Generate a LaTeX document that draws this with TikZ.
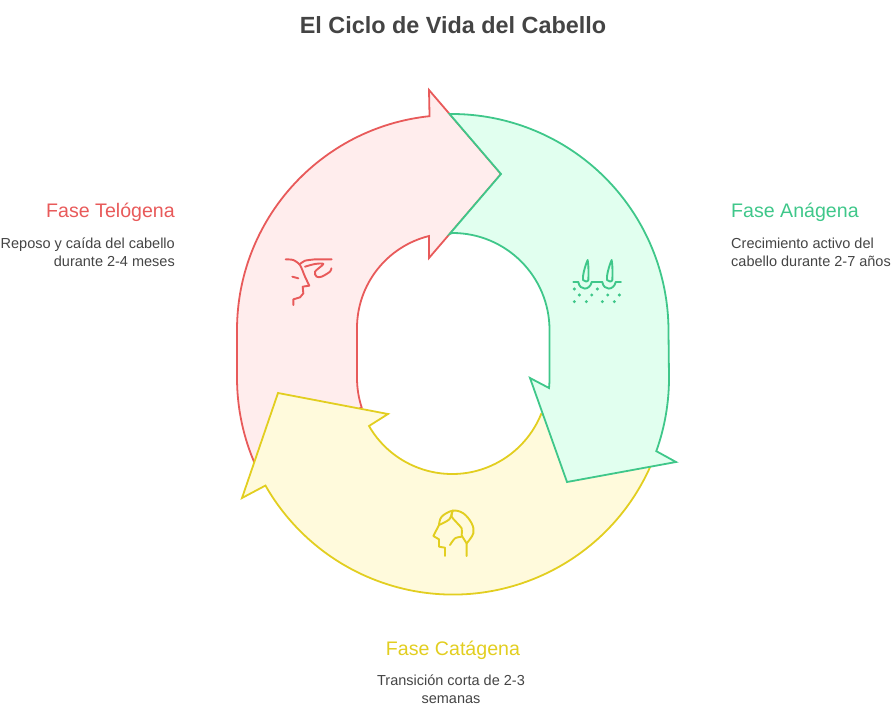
\documentclass[tikz,border=0pt]{standalone}
\usepackage{fontspec}
\setmainfont{Liberation Sans}
\definecolor{redline}{HTML}{E85A5A}
\definecolor{redfill}{HTML}{FFEDED}
\definecolor{greenline}{HTML}{3FC78A}
\definecolor{greenfill}{HTML}{E1FFEF}
\definecolor{yellowline}{HTML}{E2CE20}
\definecolor{yellowfill}{HTML}{FFFADC}
\definecolor{textgray}{HTML}{444444}
\tikzset{
    phase/.style={line width=1.8pt, line join=miter},
    icon/.style={line width=1.9pt, line join=round, line cap=round},
    heading/.style={font=\fontsize{19.6}{22}\selectfont, inner sep=0pt},
    caption/.style={font=\fontsize{14.5}{18}\selectfont, text=textgray, inner sep=0pt}
}
\begin{document}
\begin{tikzpicture}[x=1pt,y=-1pt]
    \useasboundingbox (0,0) rectangle (896,709);
    % title
    \node[font=\bfseries\fontsize{23.4}{28}\selectfont, text=textgray, inner sep=0pt] (title) at (453,25.5) {El Ciclo de Vida del Cabello};
    % arrows
    \filldraw[phase, draw=redline, fill=redfill] (429,90) -- (501,174) -- (429,258) -- (429,236)
        arc[start angle=256, end angle=180, radius=95] -- (357,378)
        arc[start angle=180, end angle=162, radius=95] -- (255.6,465.4)
        arc[start angle=156, end angle=180, radius=215] -- (237,330)
        arc[start angle=180, end angle=264, radius=215] -- cycle;
    \filldraw[phase, draw=yellowline, fill=yellowfill] (388,414) -- (369,426)
        arc[start angle=150, end angle=22, radius=96] -- (651,465)
        arc[start angle=23.6, end angle=150.3, radius=216] -- (242,498) -- (278,393) -- cycle;
    \filldraw[phase, draw=greenline, fill=greenfill] (449.6,114)
        arc[start angle=269.5, end angle=360, radius=217] -- (669,378)
        arc[start angle=0, end angle=19.7, radius=217] -- (676,462) -- (567,482) -- (530,378) -- (549,388)
        arc[start angle=5.9, end angle=0, radius=97] -- (549.5,330)
        arc[start angle=0, end angle=-90, radius=97] -- (449.6,234) -- (501,174) -- cycle;
    % icon telogena
    \begin{scope}[shift={(260,240)}, scale=1/3, icon, redline]
        \draw plot[smooth, tension=0.4] coordinates {(77,58) (100,60) (120,75) (135,110) (148,137)} -- (128,140) -- (130,160) -- (120,172) -- (100,178) -- (100,195);
        \draw plot[smooth, tension=0.4] coordinates {(120,72) (135,62) (165,58)} -- (215,58);
        \draw plot[smooth, tension=0.5] coordinates {(135,80) (165,72) (190,72) (165,95) (170,110) (185,110) (210,95) (214,85)};
        \draw (97,110) -- (115,115);
    \end{scope}
    % icon anagena
    \begin{scope}[shift={(560,250)}, scale=1/3, icon, greenline]
        \foreach \px in {0,72} {
            \draw[xshift=\px] (83,30) .. controls (74,50) and (67,80) .. (69,90) .. controls (72,96) and (84,96) .. (85,90) .. controls (86,70) and (86,50) .. (83,30);
            \draw[xshift=\px] (55,97) .. controls (60,122) and (88,122) .. (95,97);
        }
        \draw (40,97) -- (55,97);
        \draw (95,97) -- (127,97);
        \draw (167,97) -- (183,97);
        \foreach \px/\py in {43/117,112/117,58/135,95/135,143/135,178/135,43/155,79/155,127/155,163/155}
            \fill (\px,\py) circle[radius=5];
    \end{scope}
    % icon catagena
    \begin{scope}[shift={(420,500)}, scale=1/3, icon, yellowline]
        \draw (75,168) -- (75,143) -- (57,140) -- (57,118) -- (40,108) -- (57,75)
            plot[smooth, tension=0.6] coordinates {(57,75) (65,50) (98,32) (130,40) (155,70) (160,100) (140,130)} -- (140,168);
        \draw plot[smooth, tension=0.5] coordinates {(98,32) (95,50) (125,85) (125,105) (140,130)};
        \draw plot[smooth, tension=0.5] coordinates {(125,110) (105,115) (90,135)};
        \draw plot[smooth, tension=0.5] coordinates {(98,32) (88,58) (57,75)};
    \end{scope}
    % labels
    \node[heading, text=redline, anchor=east] (telogena) at (175,212.5) {Fase Telógena};
    \node[caption, anchor=north east, align=right] (telogenatext) at (175,238) {Reposo y caída del cabello\\durante 2-4 meses};
    \node[heading, text=greenline, anchor=west] (anagena) at (731,212.5) {Fase Anágena};
    \node[caption, anchor=north west, align=left] (anagenatext) at (731,238) {Crecimiento activo del\\cabello durante 2-7 años};
    \node[heading, text=yellowline] (catagena) at (453,650.5) {Fase Catágena};
    \node[caption, anchor=north, align=center] (catagenatext) at (451,675) {Transición corta de 2-3\\semanas};
\end{tikzpicture}
\end{document}
